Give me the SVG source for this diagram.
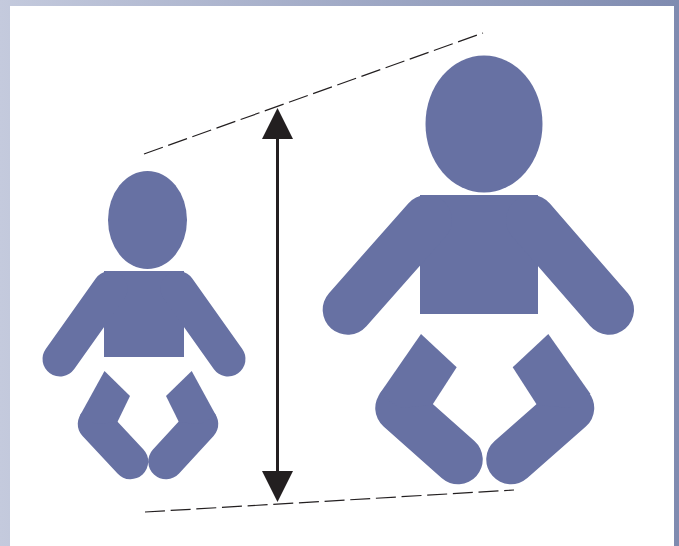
<svg xmlns="http://www.w3.org/2000/svg" width="679" height="546" viewBox="0 0 679 546">
<style>
.f{fill:#6771a3}
.limb{fill:none;stroke:#6771a3;stroke-linecap:round;stroke-linejoin:round}
.dash{fill:none;stroke:#231f20;stroke-width:1.2}
</style>
<defs>
<linearGradient id="bg" x1="0" y1="0" x2="1" y2="0"><stop offset="0" stop-color="#c4cadd"/><stop offset="1" stop-color="#7f8bb0"/></linearGradient>
</defs>
<rect width="679" height="546" fill="url(#bg)"/>
<rect x="10" y="6" width="664" height="540" fill="#fff"/>
<g id="small-baby">
<ellipse class="f" cx="147.500" cy="220" rx="39.500" ry="49"/>
<rect class="f" x="104" y="271" width="80" height="86"/>
<path class="limb" stroke-width="35" d="M60 359 110 288.500M228 359 178 288.500"/>
<path class="limb" stroke-width="35.500" d="M95.500 424 130.500 461.500M200.500 424 166 461.500"/>
<path class="f" d="M104.500 371 130 396 117.300 422.300 95.500 424 80 415.500Z"/>
<path class="f" d="M191.700 371 166 396 179 422.300 200.500 424 216 415.500Z"/>
</g>
<g id="large-baby">
<ellipse class="f" cx="484" cy="124" rx="58.500" ry="68.500"/>
<rect class="f" x="420" y="195" width="118" height="119"/>
<path class="limb" stroke-width="50" d="M347.700 309.700 427 220M609 309.700 531 220"/>
<path class="limb" stroke-width="49.500" d="M400 408 458 459.500M569.500 408 511 459.500"/>
<path class="f" d="M421 334 456.700 367.300 432.300 405 400 408 379.500 394Z"/>
<path class="f" d="M548.300 334 512.700 367.300 537 405 569.500 408 590.500 394Z"/>
</g>
<g id="connectors">
<path class="dash" stroke-dasharray="20 5.650" d="M144 154 483 33"/>
<path class="dash" stroke-dasharray="20 5.700" d="M145 512 514 490"/>
<path d="M277.500 135V475" fill="none" stroke="#231f20" stroke-width="3"/>
<path d="M277.500 108 293 139H262Z" fill="#231f20"/>
<path d="M277.500 502 293 471H262Z" fill="#231f20"/>
</g>
</svg>
